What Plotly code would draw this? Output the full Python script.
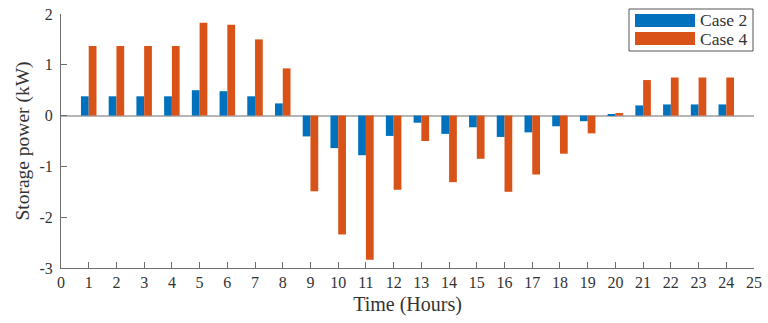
import plotly.graph_objects as go

hours = list(range(1, 25))
case2 = [0.38, 0.38, 0.38, 0.38, 0.50, 0.48, 0.38, 0.24,
         -0.41, -0.64, -0.78, -0.40, -0.14, -0.36, -0.23, -0.42,
         -0.33, -0.21, -0.11, 0.03, 0.20, 0.22, 0.22, 0.22]
case4 = [1.37, 1.37, 1.37, 1.37, 1.83, 1.79, 1.50, 0.93,
         -1.49, -2.34, -2.84, -1.46, -0.50, -1.31, -0.85, -1.50,
         -1.16, -0.75, -0.35, 0.05, 0.70, 0.75, 0.75, 0.75]
series_names = ["Case 2", "Case 4"]
series_colors = ["#0072BD", "#D95319"]
x_ticks = list(range(0, 26))
y_ticks = [-3, -2, -1, 0, 1, 2]

font_family = "Liberation Serif, Times New Roman, serif"
axis_col = "#6e6e6e"
text_col = "#333333"

W, H = 768, 323
ML, MR, MT, MB = 61, 14, 14, 55
PW, PH = W - ML - MR, H - MT - MB


def px(xp):
    return (xp - ML) / PW


def py(yp):
    return (H - MB - yp) / PH


fig = go.Figure()
for name, vals, col in zip(series_names, [case2, case4], series_colors):
    fig.add_trace(go.Bar(x=hours, y=vals, name=name,
                         marker=dict(color=col, line=dict(width=0)),
                         showlegend=False))

# legend box drawn like the MATLAB legend (wide swatches)
shapes = [dict(type="rect", xref="paper", yref="paper",
               x0=px(629), x1=px(753), y0=py(51), y1=py(9),
               line=dict(color="#555555", width=1), fillcolor="white", layer="above")]
annotations = []
sw_tops = [14, 32]
for name, col, top in zip(series_names, series_colors, sw_tops):
    shapes.append(dict(type="rect", xref="paper", yref="paper",
                       x0=px(635), x1=px(695), y0=py(top + 13), y1=py(top),
                       line=dict(width=0), fillcolor=col, layer="above"))
    annotations.append(dict(xref="paper", yref="paper", x=px(698), y=py(top + 6.5),
                            xanchor="left", yanchor="middle", showarrow=False,
                            text=name, font=dict(size=17.5, color=text_col, family=font_family)))

fig.update_layout(
    width=W, height=H,
    margin=dict(l=ML, r=MR, t=MT, b=MB),
    plot_bgcolor="white", paper_bgcolor="white",
    barmode="group", bargap=0.44, bargroupgap=0,
    font=dict(family=font_family, size=16, color=text_col),
    showlegend=False,
    shapes=shapes, annotations=annotations,
)
fig.update_xaxes(
    range=[0, 25], tickmode="array", tickvals=x_ticks, ticktext=[str(t) for t in x_ticks],
    ticks="inside", ticklen=6, tickcolor=axis_col, showline=True, linecolor=axis_col, linewidth=1,
    showgrid=False, zeroline=False, mirror=False, automargin=False,
    title=dict(text="Time (Hours)", font=dict(size=20), standoff=6),
    tickfont=dict(size=16),
)
fig.update_yaxes(
    range=[-3, 2], tickmode="array", tickvals=y_ticks, ticktext=[str(t) for t in y_ticks],
    ticks="inside", ticklen=6, tickcolor=axis_col, showline=True, linecolor=axis_col, linewidth=1,
    showgrid=False, zeroline=True, zerolinecolor="#b5b5b5", zerolinewidth=1.5, mirror=False,
    automargin=False, ticklabelstandoff=4,
    title=dict(text="Storage power (kW)", font=dict(size=19.5), standoff=4),
    tickfont=dict(size=16),
)

fig.write_html("out.html")
